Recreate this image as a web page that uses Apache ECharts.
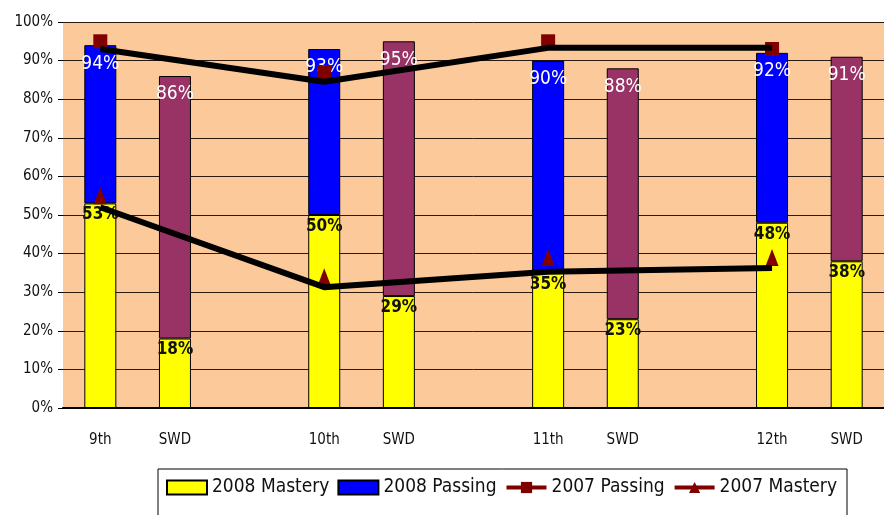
<!DOCTYPE html>
<html>
<head>
<meta charset="utf-8">
<script src="https://cdn.jsdelivr.net/npm/echarts@6/dist/echarts.min.js"></script>
<style>
  html, body { margin: 0; padding: 0; background: #fff; }
  #chart { width: 884px; height: 515px; }
</style>
</head>
<body>
<div id="chart"></div>
<script>
// 数据
var categories = ['9th', 'SWD', '', '10th', 'SWD', '', '11th', 'SWD', '', '12th', 'SWD'];
var isSwd = [false, true, false, false, true, false, false, true, false, false, true];
var mastery2008 = [53, 18, null, 50, 29, null, 35, 23, null, 48, 38];
var passing2008 = [94, 86, null, 93, 95, null, 90, 88, null, 92, 91];
var passing2007 = [95, null, null, 87, null, null, 95, null, null, 93, null];
var mastery2007 = [55, null, null, 34, null, null, 39, null, null, 39, null];
// black trend lines as drawn in the picture
var passingLine = [93, null, null, 84.5, null, null, 93.3, null, null, 93.3, null];
var masteryLine = [52, null, null, 31.3, null, null, 35.3, null, null, 36.3, null];

var font = "'Liberation Sans Narrow', 'Arial Narrow', 'DejaVu Sans Condensed', sans-serif";

var passingPart = passing2008.map(function (v, i) {
    if (v == null) return null;
    return {
        value: v - mastery2008[i],
        itemStyle: { color: isSwd[i] ? '#993366' : '#0000FF' }
    };
});

var myChart = echarts.init(document.getElementById('chart'));
var option = {
    backgroundColor: '#fff',
    animation: false,
    grid: {
        left: 63,
        right: -10,
        top: 22,
        bottom: 107,
        show: true,
        backgroundColor: '#FBC99A',
        borderWidth: 0
    },
    legend: {
        left: 158,
        top: 469,
        padding: [9, 10, 30, 8],
        borderColor: '#000',
        borderWidth: 1,
        itemWidth: 40,
        itemHeight: 14,
        itemGap: 8,
        selectedMode: false,
        textStyle: { fontFamily: font, fontSize: 19, color: '#111' },
        data: [
            { name: '2008 Mastery', icon: 'rect' },
            { name: '2008 Passing', icon: 'rect' },
            { name: '2007 Passing', lineStyle: { color: '#800000', width: 4, opacity: 1 } },
            { name: '2007 Mastery', lineStyle: { color: '#800000', width: 4, opacity: 1 } }
        ]
    },
    xAxis: {
        type: 'category',
        data: categories,
        axisLine: { lineStyle: { color: '#000', width: 2 } },
        axisTick: { length: 5, lineStyle: { color: '#000' } },
        axisLabel: { margin: 25, fontFamily: font, fontSize: 15, color: '#111' }
    },
    yAxis: {
        type: 'value',
        min: 0,
        max: 100,
        interval: 10,
        axisLine: { show: false },
        axisTick: { show: true, length: 5, lineStyle: { color: '#000' } },
        axisLabel: { formatter: '{value}%', margin: 10, fontFamily: font, fontSize: 15, color: '#111' },
        splitLine: { lineStyle: { color: '#2a1a10', width: 1 } }
    },
    series: [
        {
            name: '2008 Mastery',
            type: 'bar',
            stack: 'a',
            barWidth: 32,
            data: mastery2008,
            itemStyle: { color: '#FFFF00', borderColor: '#000', borderWidth: 1 },
            label: {
                show: true,
                position: 'insideTop',
                distance: 3,
                formatter: '{c}%',
                fontFamily: font,
                fontSize: 17,
                fontWeight: 'bold',
                color: '#111'
            }
        },
        {
            name: '2008 Passing',
            type: 'bar',
            stack: 'a',
            barWidth: 32,
            data: passingPart,
            itemStyle: { color: '#0000FF', borderColor: '#000', borderWidth: 1 },
            label: {
                show: true,
                position: 'insideTop',
                distance: 9,
                formatter: function (p) { return passing2008[p.dataIndex] + '%'; },
                fontFamily: font,
                fontSize: 19,
                color: '#fff'
            }
        },
        {
            name: '2007 Passing',
            type: 'line',
            data: passing2007,
            symbol: 'rect',
            symbolSize: 14,
            itemStyle: { color: '#800000' },
            lineStyle: { opacity: 0 },
            z: 3
        },
        {
            name: '2007 Mastery',
            type: 'line',
            data: mastery2007,
            symbol: 'triangle',
            symbolSize: [13, 17],
            itemStyle: { color: '#800000' },
            lineStyle: { opacity: 0 },
            z: 3
        },
        {
            name: 'passingLine',
            type: 'line',
            data: passingLine,
            connectNulls: true,
            symbol: 'none',
            silent: true,
            lineStyle: { color: '#000', width: 6 },
            z: 4
        },
        {
            name: 'masteryLine',
            type: 'line',
            data: masteryLine,
            connectNulls: true,
            symbol: 'none',
            silent: true,
            lineStyle: { color: '#000', width: 6 },
            z: 4
        }
    ]
};
myChart.setOption(option);
</script>
</body>
</html>
